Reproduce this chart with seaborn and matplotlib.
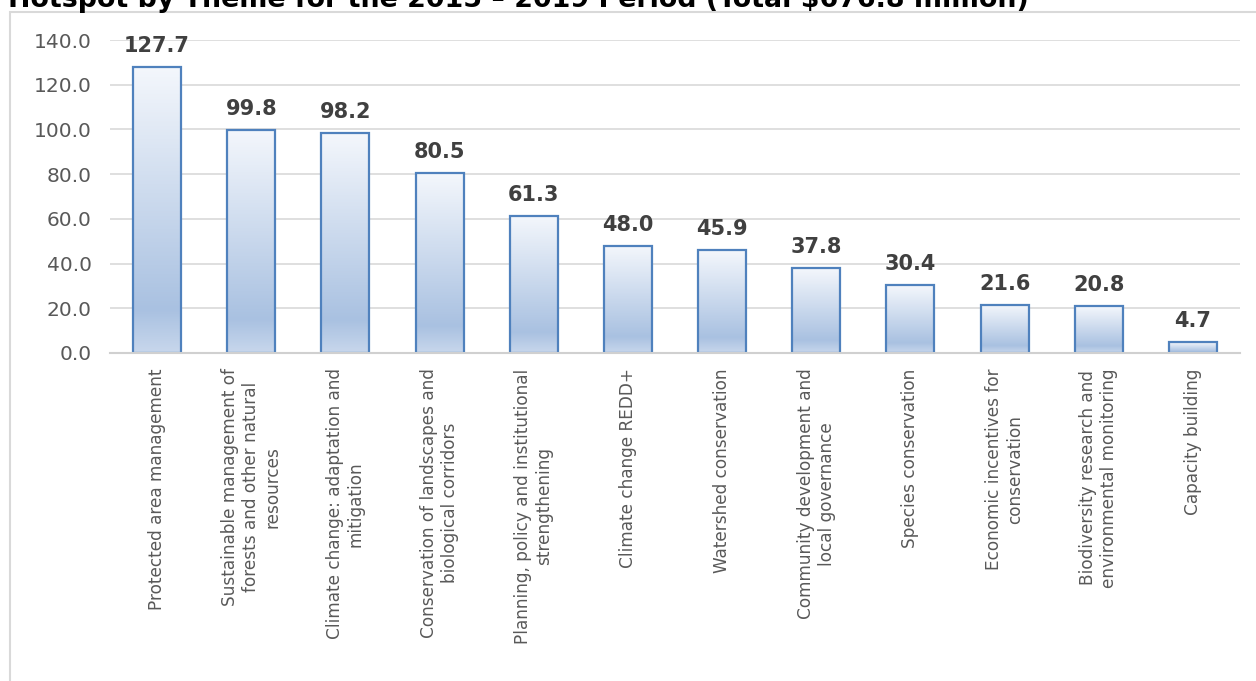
import numpy as np
import pandas as pd
import matplotlib
matplotlib.use("Agg")
import matplotlib.pyplot as plt
import seaborn as sns
from matplotlib.colors import LinearSegmentedColormap
from matplotlib.patches import Rectangle

themes = [
    "Protected area management",
    "Sustainable management of\nforests and other natural\nresources",
    "Climate change: adaptation and\nmitigation",
    "Conservation of landscapes and\nbiological corridors",
    "Planning, policy and institutional\nstrengthening",
    "Climate change REDD+",
    "Watershed conservation",
    "Community development and\nlocal governance",
    "Species conservation",
    "Economic incentives for\nconservation",
    "Biodiversity research and\nenvironmental monitoring",
    "Capacity building",
]
amounts = [127.7, 99.8, 98.2, 80.5, 61.3, 48.0, 45.9, 37.8, 30.4, 21.6, 20.8, 4.7]
y_ticks = [0, 20, 40, 60, 80, 100, 120, 140]
title = "Hotspot by Theme for the 2015 \u2013 2019 Period (Total $676.8 million)"

sns.set_theme(style="white")
plt.rcParams["font.family"] = ["DejaVu Sans"]

df = pd.DataFrame({"theme": themes, "amount": amounts})

fig = plt.figure(figsize=(12.56, 6.81), dpi=100)
ax = fig.add_axes([110 / 1256, 1 - 353 / 681, 1130 / 1256, 313 / 681])

sns.barplot(data=df, x="theme", y="amount", ax=ax, width=0.51,
            color="#a9c1e1", edgecolor="#4f81bd", linewidth=1.6, zorder=3)

ax.set_ylim(0, 140)
xlim = ax.get_xlim()

cmap = LinearSegmentedColormap.from_list(
    "grad", [(0.0, "#c8d7ec"), (0.15, "#a9c1e1"), (1.0, "#f4f7fc")])
grad = np.linspace(0, 1, 256).reshape(-1, 1)
for p in list(ax.patches):
    x0, y0 = p.get_x(), p.get_y()
    w, h = p.get_width(), p.get_height()
    im = ax.imshow(grad, cmap=cmap, aspect="auto", origin="lower",
                   extent=[x0, x0 + w, y0, y0 + h], zorder=2,
                   interpolation="bilinear")
    im.set_clip_path(p)
    p.set_facecolor("none")

ax.set_xlim(xlim)
ax.set_ylim(0, 140)
ax.set_yticks(y_ticks)
ax.set_yticklabels([f"{v:.1f}" for v in y_ticks])

ax.bar_label(ax.containers[0], labels=[f"{v:.1f}" for v in amounts],
             padding=8, fontsize=15, fontweight="bold", color="#404040")

ax.grid(axis="y", color="#d9d9d9", linewidth=1.2, zorder=0)
ax.set_axisbelow(True)
for s in ["top", "left", "right"]:
    ax.spines[s].set_visible(False)
ax.spines["bottom"].set_color("#d0d0d0")
ax.spines["bottom"].set_linewidth(1.5)
ax.spines["bottom"].set_zorder(4)

ax.tick_params(axis="y", length=0, pad=13, labelsize=14.5, labelcolor="#595959")
ax.tick_params(axis="x", length=0, pad=11, labelsize=12.2, labelcolor="#595959")
for lab in ax.get_xticklabels():
    lab.set_rotation(90)
    lab.set_ha("center")
    lab.set_va("top")
    lab.set_multialignment("center")
ax.set_xlabel("")
ax.set_ylabel("")

fig.patches.append(Rectangle((10 / 1256, -0.1), 1.2, 1 - 12 / 681 + 0.1,
                             transform=fig.transFigure, fill=False,
                             edgecolor="#d9d9d9", linewidth=1.5))
fig.text(8 / 1256, 1 - 7 / 681, title, fontsize=19.4, fontweight="bold",
         color="#000000", ha="left", va="baseline")

fig.savefig("out.png", dpi=100)
